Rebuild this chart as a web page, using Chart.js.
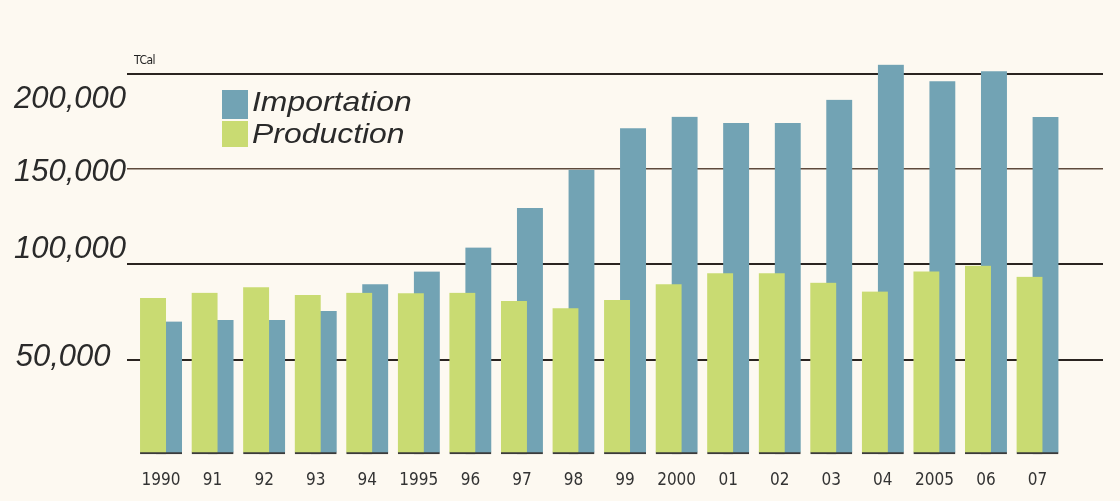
<!DOCTYPE html>
<html>
<head>
<meta charset="utf-8">
<script src="https://cdn.jsdelivr.net/npm/chart.js@4/dist/chart.umd.min.js"></script>
<style>
  html, body { margin: 0; padding: 0; background: #fdf9f1; }
  #wrap { position: relative; width: 1120px; height: 501px; }
  #c { position: absolute; left: 0; top: 0; }
  .unit { position: absolute; left: 134px; top: 53px; font: 12px 'Liberation Sans Narrow', 'DejaVu Sans Condensed', sans-serif; color: #222; letter-spacing: -0.5px; }
  .lg-box { position: absolute; left: 222px; width: 26px; }
  .lg-txt { position: absolute; left: 252px; font: italic 28px 'Liberation Sans', Arial, sans-serif; color: #2a2a2a; transform: scaleX(1.14); transform-origin: left center; white-space: nowrap; line-height: 30px; }
</style>
</head>
<body>
<div id="wrap">
  <canvas id="c" width="1120" height="501"></canvas>
  <div class="unit">TCal</div>
  <div class="lg-box" id="box0" style="top:90px;height:29px;"></div>
  <div class="lg-txt" id="txt0" style="top:87px;"></div>
  <div class="lg-box" id="box1" style="top:121px;height:26px;"></div>
  <div class="lg-txt" id="txt1" style="top:119px;"></div>
</div>
<script>
// ---- data ----
const categories = ['1990','91','92','93','94','1995','96','97','98','99','2000','01','02','03','04','2005','06','07'];
const seriesNames = ['Importation', 'Production'];
const importation = [70000, 70800, 70800, 75500, 89500, 96200, 108800, 129500, 149600, 171400, 177400, 174100, 174100, 186300, 204700, 196000, 201200, 177300];
const production  = [82400, 85100, 88000, 83900, 85100, 84800, 85100, 80700, 76900, 81300, 89500, 95300, 95300, 90400, 85700, 96300, 99300, 93500];
const yTickValues = [0, 50000, 100000, 150000, 200000];
const yTickLabels = ['', '50,000', '100,000', '150,000', '200,000'];
const unitLabel = 'TCal';

// ---- styles ----
const colImp = '#72a3b4';
const colProd = '#c9db72';
const XMIN = -0.66, XMAX = 18.27, SHIFT = 0.155;
const labelShift = {200000: 26, 150000: 3, 100000: -15, 50000: -2};
const labelPadRight = {50000: 18};

document.getElementById('box0').style.background = colImp;
document.getElementById('box1').style.background = colProd;
document.getElementById('txt0').textContent = seriesNames[0];
document.getElementById('txt1').textContent = seriesNames[1];
document.querySelector('.unit').textContent = unitLabel;

const barBase = {
  barThickness: 26,
  grouped: false,
  borderSkipped: false,
  borderWidth: {top: 0, left: 0, right: 0, bottom: 2},
  borderColor: '#3b3b3b'
};

new Chart(document.getElementById('c'), {
  type: 'bar',
  data: {
    datasets: [
      Object.assign({
        label: seriesNames[0],
        data: importation.map((v, i) => ({x: i, y: v})),
        backgroundColor: colImp,
        xAxisID: 'xImp',
        order: 1
      }, barBase),
      Object.assign({
        label: seriesNames[1],
        data: production.map((v, i) => ({x: i, y: v})),
        backgroundColor: colProd,
        xAxisID: 'xProd',
        order: 0
      }, barBase)
    ]
  },
  options: {
    responsive: false,
    animation: false,
    layout: { padding: {top: 54, right: 17, bottom: 0, left: 0} },
    plugins: { legend: {display: false}, tooltip: {enabled: false} },
    scales: {
      x: {
        type: 'linear',
        position: 'bottom',
        offset: false,
        min: XMIN, max: XMAX,
        afterBuildTicks: s => { s.ticks = categories.map((_, i) => ({value: i})); },
        afterFit: s => { s.height = 46; s.paddingLeft = 0; s.paddingRight = 0; },
        grid: {display: false, offset: false},
        border: {display: false},
        ticks: {
          autoSkip: false, maxRotation: 0, padding: 7,
          color: '#333',
          font: {family: "'Liberation Sans Narrow', 'DejaVu Sans Condensed', sans-serif", size: 17},
          callback: v => categories[v] !== undefined ? categories[v] : ''
        }
      },
      xImp: { type: 'linear', display: false, offset: false, grid: {offset: false}, position: 'bottom', min: XMIN - SHIFT, max: XMAX - SHIFT },
      xProd: { type: 'linear', display: false, offset: false, grid: {offset: false}, position: 'bottom', min: XMIN + SHIFT, max: XMAX + SHIFT },
      y: {
        min: 0, max: 210300,
        afterBuildTicks: s => { s.ticks = yTickValues.map(v => ({value: v})); },
        afterFit: s => { s.width = 127; },
        border: {display: false},
        grid: {
          drawTicks: false,
          color: c => c.tick && c.tick.value === 0 ? 'rgba(0,0,0,0)' : (c.tick && c.tick.value === 150000 ? '#5e4a3c' : '#2a2420'),
          lineWidth: c => c.tick && c.tick.value === 150000 ? 1.5 : 2
        },
        ticks: {
          autoSkip: false, padding: 1,
          color: '#2a2a2a',
          font: c => {
            const s = c.tick ? (labelShift[c.tick.value] || 0) : 0;
            return {family: "'Liberation Sans', Arial, sans-serif", size: 31, style: 'italic',
                    lineHeight: s ? (2 * Math.abs(s)) + 'px' : 1.2};
          },
          callback: v => {
            const idx = yTickValues.indexOf(v);
            let lab = idx >= 0 ? yTickLabels[idx] : '';
            if (lab && labelPadRight[v]) lab = lab + '\u2002';
            const s = labelShift[v] || 0;
            if (!lab || !s) return lab;
            return s > 0 ? ['', lab] : [lab, ''];
          }
        }
      }
    }
  }
});
</script>
</body>
</html>
